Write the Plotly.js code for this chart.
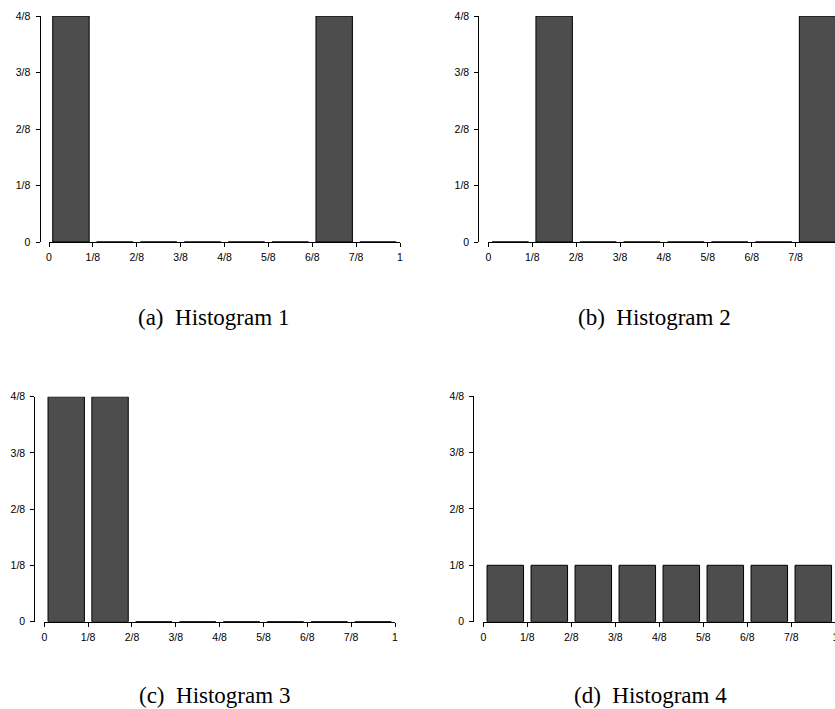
<!DOCTYPE html>
<html>
<head>
<meta charset="utf-8">
<script src="https://cdn.plot.ly/plotly-3.0.1.min.js"></script>
<style>
  html, body { margin: 0; padding: 0; overflow: hidden; background: #fff; }
  #fig { width: 845px; height: 709px; }
</style>
</head>
<body>
<div id="fig"></div>
<script>
// bin centres on [0,1], eight bins of width 1/8
var binCenters = [0.0625, 0.1875, 0.3125, 0.4375, 0.5625, 0.6875, 0.8125, 0.9375];

// relative frequencies
var hist1 = [4/8, 0, 0, 0, 0, 0, 4/8, 0];
var hist2 = [0, 4/8, 0, 0, 0, 0, 0, 4/8];
var hist3 = [4/8, 4/8, 0, 0, 0, 0, 0, 0];
var hist4 = [1/8, 1/8, 1/8, 1/8, 1/8, 1/8, 1/8, 1/8];

var xTickVals = [0, 1/8, 2/8, 3/8, 4/8, 5/8, 6/8, 7/8, 1];
var xTickText = ['0', '1/8', '2/8', '3/8', '4/8', '5/8', '6/8', '7/8', '1'];
var yTickVals = [0, 1/8, 2/8, 3/8, 4/8];
var yTickText = ['0', '1/8', '2/8', '3/8', '4/8'];

var captions = ['(a)\u00a0 Histogram 1', '(b)\u00a0 Histogram 2',
                '(c)\u00a0 Histogram 3', '(d)\u00a0 Histogram 4'];

var W = 845, H = 709;
function fx(px) { return px / W; }
function fy(py) { return (H - py) / H; }

// panel frames in pixels: x of 0 and 1, y of 4/8 and 0, y-axis line x
var panels = [
  {x0: 49,    x1: 400,   yTop: 16,    yBot: 242,   yLine: 39.5,  capX: 213, capY: 317},
  {x0: 488.3, x1: 839.5, yTop: 16,    yBot: 242,   yLine: 478.3, capX: 654, capY: 317},
  {x0: 44.3,  x1: 395,   yTop: 396.7, yBot: 621.7, yLine: 34.3,  capX: 214, capY: 695},
  {x0: 483.3, x1: 835.3, yTop: 396,   yBot: 621.7, yLine: 473.3, capX: 650, capY: 695}
];
var series = [hist1, hist2, hist3, hist4];

var tickFont = {family: 'Liberation Sans, Arial, sans-serif', size: 10.5, color: '#000'};
var data = [];
var layout = {
  width: W, height: H,
  margin: {l: 0, r: 0, t: 0, b: 0},
  paper_bgcolor: '#fff', plot_bgcolor: 'rgba(0,0,0,0)',
  showlegend: false,
  bargap: 0.17,
  annotations: []
};

for (var i = 0; i < 4; i++) {
  var n = i === 0 ? '' : String(i + 1);
  var p = panels[i];
  data.push({
    type: 'bar', x: binCenters, y: series[i],
    xaxis: 'x' + n, yaxis: 'y' + n,
    marker: {color: '#4d4d4d', line: {color: '#000', width: 1}},
    hoverinfo: 'skip'
  });
  layout['xaxis' + n] = {
    domain: [fx(p.x0), fx(p.x1)], range: [0, 1], anchor: 'y' + n,
    showgrid: false, zeroline: false, showline: true, linecolor: '#000', linewidth: 1.3,
    ticks: 'outside', ticklen: 4, tickwidth: 1, tickcolor: '#000',
    tickvals: xTickVals, ticktext: xTickText, tickfont: tickFont, ticklabelstandoff: 1
  };
  layout['yaxis' + n] = {
    domain: [fy(p.yBot), fy(p.yTop)], range: [0, 0.5], anchor: 'free', position: fx(p.yLine),
    showgrid: false, zeroline: false, showline: true, linecolor: '#000', linewidth: 1,
    ticks: 'outside', ticklen: 4, tickwidth: 1, tickcolor: '#000',
    tickvals: yTickVals, ticktext: yTickText, tickfont: tickFont, ticklabelstandoff: 3
  };
  layout.annotations.push({
    xref: 'paper', yref: 'paper', x: fx(p.capX), y: fy(p.capY),
    xanchor: 'center', yanchor: 'middle', showarrow: false,
    text: captions[i],
    font: {family: 'Liberation Serif, Times New Roman, serif', size: 23, color: '#000'}
  });
}

Plotly.newPlot('fig', data, layout, {staticPlot: true, displayModeBar: false});
</script>
</body>
</html>
